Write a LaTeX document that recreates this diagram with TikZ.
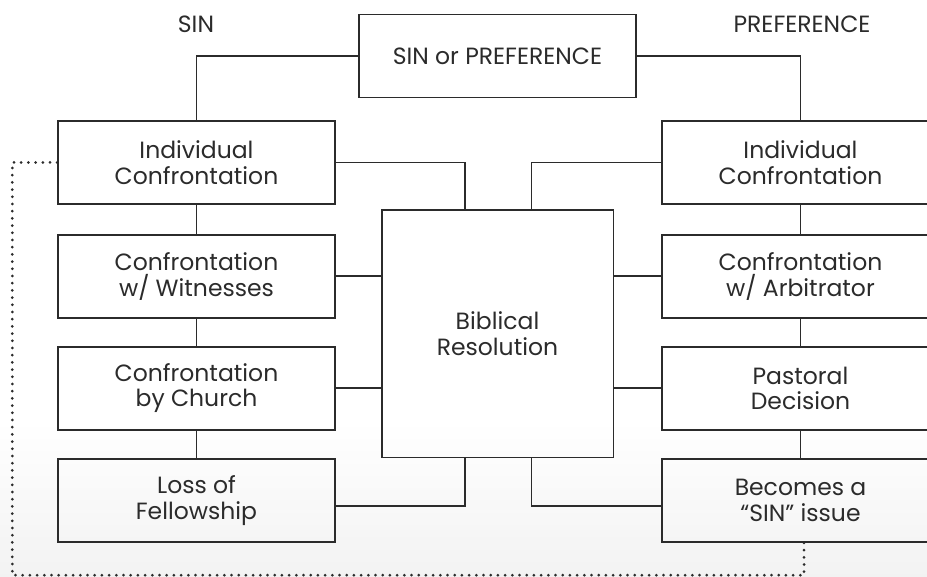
\documentclass[tikz,border=0pt]{standalone}
\usepackage{fontspec}
\setmainfont{Poppins}
\usetikzlibrary{positioning,calc}
\definecolor{ink}{HTML}{2B2B2B}
\tikzset{
  box/.style={draw=ink, line width=1.6pt, minimum width=277pt, minimum height=83pt,
    inner sep=0pt, align=center, text=ink, font=\fontsize{23.5}{25.5}\selectfont},
  bigbox/.style={box, minimum width=231.6pt, minimum height=247pt},
  link/.style={draw=ink, line width=1.6pt},
  dotline/.style={draw=ink, line width=3pt, line cap=round, dash pattern=on 0pt off 7.2pt},
  lbl/.style={text=ink, font=\fontsize{23.5}{25.5}\selectfont}
}
\begin{document}
\begin{tikzpicture}[x=1pt,y=-1pt]
\clip (0,0) rectangle (927,577);
\shade[top color=white, bottom color=black!5] (0,420) rectangle (927,577);
% labels
\node[lbl] (sinlbl) at (196,24) {SIN};
\node[lbl] (preflbl) at (802,24) {PREFERENCE};
% top
\node[box] (top) at (497.5,56) {SIN or PREFERENCE};
% left column
\node[box] (li) at (196.5,162.5) {Individual\\Confrontation};
\node[box] (lw) at (196.5,276.3) {Confrontation\\w/ Witnesses};
\node[box] (lc) at (196.5,388.3) {Confrontation\\by Church};
\node[box] (ll) at (196.5,500.4) {Loss of\\Fellowship};
% right column
\node[box] (ri) at (800.5,162.5) {Individual\\Confrontation};
\node[box] (ra) at (800.5,276.3) {Confrontation\\w/ Arbitrator};
\node[box] (rp) at (800.5,388.3) {Pastoral\\Decision};
\node[box] (rs) at (800.5,500.4) {Becomes a\\“SIN” issue};
% center
\node[bigbox] (cb) at (497.5,333.8) {Biblical\\Resolution};
% connectors
\draw[link] (top.west) -| (li.north);
\draw[link] (top.east) -| (ri.north);
\draw[link] (li) -- (lw);
\draw[link] (lw) -- (lc);
\draw[link] (lc) -- (ll);
\draw[link] (ri) -- (ra);
\draw[link] (ra) -- (rp);
\draw[link] (rp) -- (rs);
\draw[link] (li.east) -| ([xshift=-32.5pt]cb.north);
\draw[link] (ri.west) -| ([xshift=34pt]cb.north);
\draw[link] (lw.east) -- (lw.east -| cb.west);
\draw[link] (lc.east) -- (lc.east -| cb.west);
\draw[link] (ra.west) -- (ra.west -| cb.east);
\draw[link] (rp.west) -- (rp.west -| cb.east);
\draw[link] ([yshift=-5.3pt]ll.east) -| ([xshift=-32.5pt]cb.south);
\draw[link] ([yshift=-5.3pt]rs.west) -| ([xshift=34pt]cb.south);
% dotted loop
\coordinate (dl) at (12.3,575.2);
\coordinate (dr) at (804,575.2);
\draw[dotline] (li.west) -| (dl) -- (dr) -- ([xshift=3.5pt]rs.south);
\end{tikzpicture}
\end{document}
